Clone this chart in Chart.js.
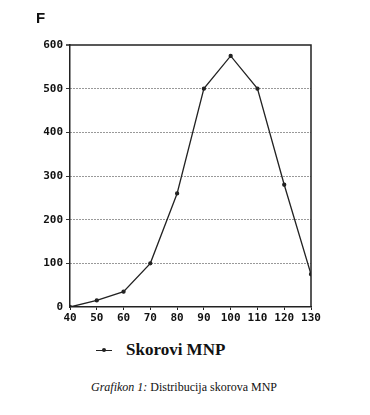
<!DOCTYPE html>
<html>
<head>
<meta charset="utf-8">
<script src="https://cdn.jsdelivr.net/npm/chart.js@4/dist/chart.umd.min.js"></script>
<style>
  body { margin: 0; background: #fff; }
  #wrap { position: relative; width: 370px; height: 415px; overflow: hidden; }
  #chart { position: absolute; left: 0; top: 0; }
  #fLabel { position: absolute; left: 36px; top: 9px; font: bold 15px "Liberation Sans", Arial, sans-serif; color: #111; }
  #legend { position: absolute; left: 96px; top: 340px; font: bold 17px "Liberation Serif", "Times New Roman", serif; color: #111; }
  #legend .sym { display: inline-block; position: relative; width: 16px; height: 10px; margin-right: 14px; }
  #legend .sym::before { content: ""; position: absolute; left: 0; right: 0; top: 5px; border-top: 1px solid #222; }
  #legend .sym::after { content: ""; position: absolute; left: 6px; top: 3px; width: 4px; height: 4px; border-radius: 2px; background: #222; }
  #caption { position: absolute; left: 91px; top: 380px; font: 12px "Liberation Serif", "Times New Roman", serif; color: #111; }
</style>
</head>
<body>
<div id="wrap">
  <canvas id="chart" width="370" height="335"></canvas>
  <div id="fLabel">F</div>
  <div id="legend"><span class="sym"></span>Skorovi MNP</div>
  <div id="caption"><i>Grafikon 1:</i> Distribucija skorova MNP</div>
</div>
<script>
const scores = [40, 50, 60, 70, 80, 90, 100, 110, 120, 130];
const frequencies = [0, 15, 35, 100, 260, 500, 575, 500, 280, 75];
const yTicks = [0, 100, 200, 300, 400, 500, 600];

const tickFont = { family: "'DejaVu Sans Mono', monospace", size: 11, weight: "bold" };

// solid frame on top and right, like the printed chart
const framePlugin = {
  id: "frame",
  afterDraw(chart) {
    const { ctx, chartArea: a } = chart;
    ctx.save();
    ctx.strokeStyle = "#222";
    ctx.lineWidth = 1.5;
    ctx.beginPath();
    ctx.moveTo(a.left - 4, a.top);
    ctx.lineTo(a.right, a.top);
    ctx.lineTo(a.right, a.bottom);
    ctx.stroke();
    ctx.restore();
  },
};

new Chart(document.getElementById("chart"), {
  type: "line",
  data: {
    datasets: [{
      label: "Skorovi MNP",
      data: scores.map((x, i) => ({ x, y: frequencies[i] })),
      borderColor: "#222",
      backgroundColor: "#222",
      borderWidth: 1.3,
      pointRadius: 1.5,
      tension: 0,
    }],
  },
  options: {
    responsive: false,
    animation: false,
    layout: { padding: { left: 0, right: 59, top: 45, bottom: 0 } },
    plugins: { legend: { display: false }, tooltip: { enabled: false } },
    scales: {
      x: {
        type: "linear",
        min: 40,
        max: 130,
        afterBuildTicks: (s) => { s.ticks = scores.map((v) => ({ value: v })); },
        afterFit: (s) => { s.height = 28; },
        grid: { drawOnChartArea: false, tickLength: 3, color: "#222" },
        border: { color: "#222", width: 1.5 },
        ticks: { color: "#111", font: tickFont, padding: 2, maxRotation: 0 },
      },
      y: {
        min: 0,
        max: 600,
        afterBuildTicks: (s) => { s.ticks = yTicks.map((v) => ({ value: v })); },
        afterFit: (s) => { s.width = 70; },
        grid: {
          color: (c) => (c.tick && c.tick.value > 0 && c.tick.value < 600 ? "#333" : "rgba(0,0,0,0)"),
          lineWidth: 1,
          tickLength: 4,
        },
        border: { color: "#222", width: 1.5, dash: [1, 2] },
        ticks: { color: "#111", font: tickFont, padding: 3 },
      },
    },
  },
  plugins: [framePlugin],
});
</script>
</body>
</html>
